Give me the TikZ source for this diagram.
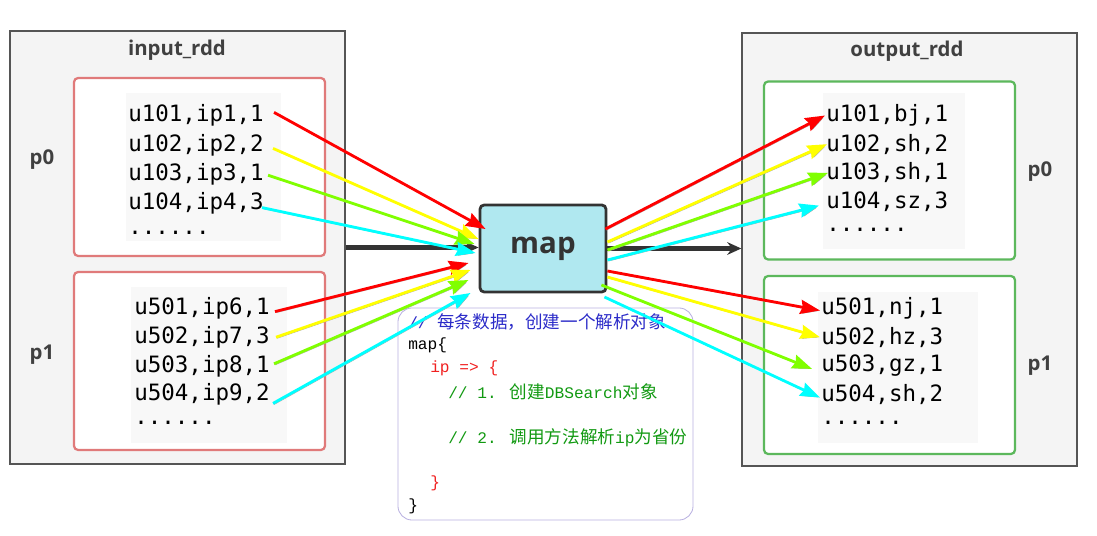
\documentclass[tikz,border=0pt]{standalone}
\usepackage{fontspec}
\usetikzlibrary{arrows.meta,calc,positioning}
\newfontfamily\labelfont{Open Sans}
\newfontfamily\datafont{DejaVu Sans Mono}
\newfontfamily\codefont{Liberation Mono}
\newfontfamily\cjk{Noto Sans CJK SC}
\newcommand\zh[1]{{\cjk\fontsize{12.5}{15}\selectfont #1}}
\newcommand\moredots{......}

\definecolor{rddgray}{HTML}{F4F4F4}
\definecolor{rddborder}{HTML}{555555}
\definecolor{partred}{HTML}{E07A7A}
\definecolor{partgreen}{HTML}{5CB85C}
\definecolor{linebg}{HTML}{F8F8F8}
\definecolor{mapfill}{HTML}{B0E8F0}
\definecolor{codeborder}{HTML}{B8B0E0}
\definecolor{cblue}{HTML}{2B2BC8}
\definecolor{cgreen}{HTML}{119911}
\definecolor{cred}{HTML}{F02020}
\definecolor{flowred}{HTML}{FF0000}
\definecolor{flowyellow}{HTML}{FFFF00}
\definecolor{flowgreen}{HTML}{80FF00}
\definecolor{flowcyan}{HTML}{00FFFF}
\definecolor{labelgray}{HTML}{404040}

\tikzset{
  rddbox/.style={draw=rddborder, fill=rddgray, line width=0.9pt,
    minimum width=8.375cm, minimum height=10.825cm},
  partbox/.style={draw=#1, fill=white, line width=1.6pt, rounded corners=3pt,
    minimum width=6.275cm, minimum height=4.45cm},
  linebox/.style={fill=linebg, inner sep=0pt},
  dataline/.style={anchor=west, inner sep=0pt, font=\datafont\fontsize{16}{16}\selectfont},
  rddlabel/.style={font=\labelfont\bfseries\fontsize{14.5}{16}\selectfont, text=labelgray},
  mapbox/.style={draw=black!80, fill=mapfill, line width=2pt, rounded corners=3pt,
    minimum width=3.15cm, minimum height=2.175cm,
    font=\labelfont\bfseries\fontsize{21}{22}\selectfont, text=black!80},
  codebox/.style={draw=codeborder, line width=0.6pt, rounded corners=10pt,
    minimum width=7.375cm, minimum height=5.3cm},
  codeline/.style={anchor=west, inner sep=0pt, font=\codefont\fontsize{11.5}{14}\selectfont},
  bigflow/.style={draw=black!80, line width=3.4pt, -{Stealth[length=10pt,width=9pt]}},
  flow/.style={draw=#1, line width=2pt, -{Stealth[length=14pt,width=10pt,inset=1.5pt]},
    preaction={draw=black!35, transform canvas={shift={(0.8pt,-0.8pt)}}}}
}

\begin{document}
\begin{tikzpicture}[x=0.025cm, y=-0.025cm]
\useasboundingbox (0,0) rectangle (1097,536);

% input side
\node[rddbox] (in) at (177.5,247.5) {};
\node[rddlabel] (inlabel) at (177,50) {input\_rdd};
\node[partbox=partred] (inp0) at (199.5,167) {};
\node[partbox=partred] (inp1) at (199.5,361) {};
\node[linebox, minimum width=3.875cm, minimum height=3.7cm] (inbg0) at (203.5,167) {};
\node[linebox, minimum width=3.9cm, minimum height=3.9cm] (inbg1) at (209,365) {};
\node[rddlabel] (inp0label) at (42,160) {p0};
\node[rddlabel] (inp1label) at (42,355) {p1};
\foreach \t [count=\k] in {{u101,ip1,1},{u102,ip2,2},{u103,ip3,1},{u104,ip4,3},\moredots}
{
  \node[dataline] (i\k) at (128,{86+29.4*\k}) {\t};
}
\foreach \t [count=\k] in {{u501,ip6,1},{u502,ip7,3},{u503,ip8,1},{u504,ip9,2},\moredots}
{
  \node[dataline] (j\k) at (134,{280+28.6*\k}) {\t};
}

% output side
\node[rddbox] (out) at (909.5,249.5) {};
\node[rddlabel] (outlabel) at (907,51) {output\_rdd};
\node[partbox=partgreen] (outp0) at (889.5,170.5) {};
\node[partbox=partgreen] (outp1) at (889.5,365) {};
\node[linebox, minimum width=3.55cm, minimum height=3.9cm] (outbg0) at (894,171) {};
\node[linebox, minimum width=4cm, minimum height=3.775cm] (outbg1) at (898,367.5) {};
\node[rddlabel] (outp0label) at (1040,172) {p0};
\node[rddlabel] (outp1label) at (1040,366) {p1};
\foreach \t [count=\k] in {{u101,bj,1},{u102,sh,2},{u103,sh,1},{u104,sz,3},\moredots}
{
  \node[dataline] (o\k) at (826,{86.8+28.7*\k}) {\t};
}
\foreach \t [count=\k] in {{u501,nj,1},{u502,hz,3},{u503,gz,1},{u504,sh,2},\moredots}
{
  \node[dataline] (q\k) at (821,{279.8+28.7*\k}) {\t};
}

% map and code
\node[mapbox] (map) at (543,248.5) {map};
\node[codebox] (code) at (545.5,414) {};
\node[codeline, text=cblue] (c1) at (408,322) {// \zh{每条数据，创建一个解析对象}};
\node[codeline] (c2) at (408,345) {map\{};
\node[codeline, text=cred] (c3) at (430,368) {ip => \{};
\node[codeline, text=cgreen] (c4) at (448,392) {// 1. \zh{创建}DBSearch\zh{对象}};
\node[codeline, text=cgreen] (c5) at (448,438) {// 2. \zh{调用方法解析}ip\zh{为省份}};
\node[codeline, text=cred] (c6) at (430,483) {\}};
\node[codeline] (c7) at (408,506) {\}};

\draw[bigflow] (in.east) -- (in.east -| map.west);
\draw[bigflow] (map.east) -- (map.east -| out.west);

% input -> map
\foreach \c/\k/\sx/\sy/\tx/\ty in {flowred/1/10/-3/7/-19.5, flowyellow/2/9/3.6/0/-9.5,
  flowgreen/3/4/1/-4/-4.5, flowcyan/4/-2/4/-3/4.5}
{
  \draw[flow=\c] ($(i\k.east)+(\sx,\sy)$) -- ($(map.west)+(\tx,\ty)$);
}
\foreach \c/\k/\sx/\sy/\tx/\ty in {flowred/1/5/3/-10/14.5, flowyellow/2/6/0/-8/21.5,
  flowgreen/3/4/-2/-10/31.5, flowcyan/4/3/9/-8/44.5}
{
  \draw[flow=\c] ($(j\k.east)+(\sx,\sy)$) -- ($(map.west)+(\tx,\ty)$);
}

% map -> output
\foreach \c/\k/\sx/\sy/\tx/\ty in {flowred/1/-2/-19.5/-1/0, flowyellow/2/0/-6.5/1/0,
  flowgreen/3/0/1.5/2/0, flowcyan/4/0/11.5/-7/4}
{
  \draw[flow=\c] ($(map.east)+(\sx,\sy)$) -- ($(o\k.west)+(\tx,\ty)$);
}
\foreach \c/\k/\sx/\sy/\tx/\ty in {flowred/1/0/22.5/-1/2, flowyellow/2/0/28.5/-1/0,
  flowgreen/3/-6/36.5/-9/3, flowcyan/4/-3/48.5/-1/3}
{
  \draw[flow=\c] ($(map.east)+(\sx,\sy)$) -- ($(q\k.west)+(\tx,\ty)$);
}
\end{tikzpicture}
\end{document}
